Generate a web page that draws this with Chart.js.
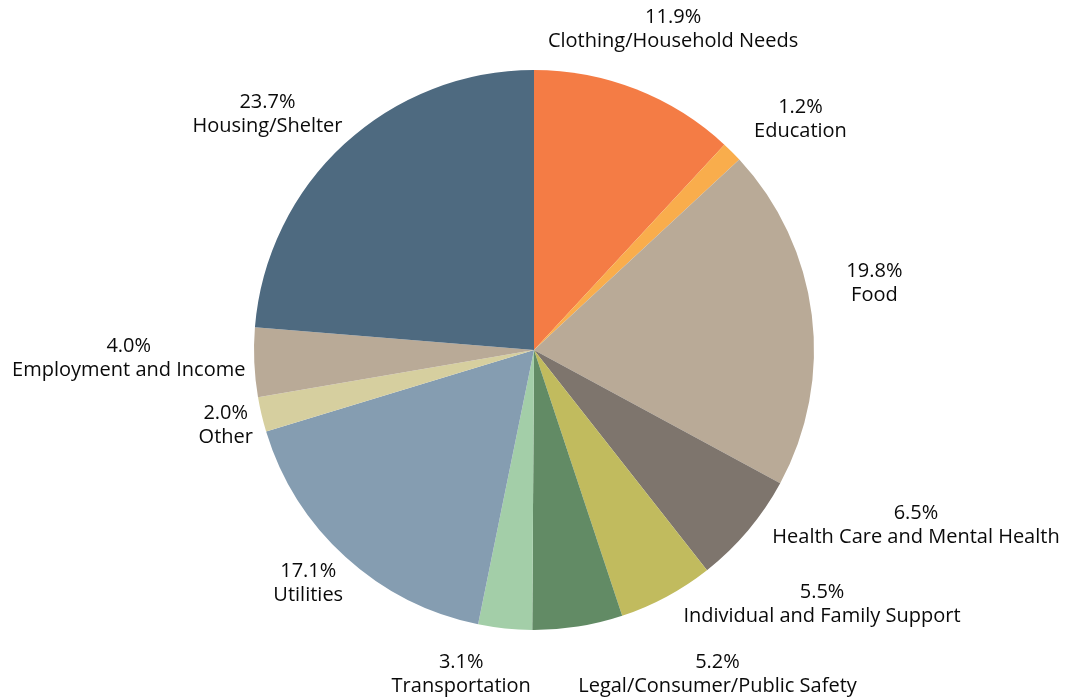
<!DOCTYPE html>
<html><head><meta charset="utf-8">
<script src="https://cdn.jsdelivr.net/npm/chart.js@4"></script>
<style>html,body{margin:0;padding:0;background:#fff}#wrap{width:1079px;height:700px}</style>
</head><body><div id="wrap"><canvas id="c"></canvas></div>
<script>
const categories = ["Clothing/Household Needs","Education","Food","Health Care and Mental Health","Individual and Family Support","Legal/Consumer/Public Safety","Transportation","Utilities","Other","Employment and Income","Housing/Shelter"];
const values = [11.9,1.2,19.8,6.5,5.5,5.2,3.1,17.1,2.0,4.0,23.7];
const colors = ["#F47C45","#F9AD4C","#B9AA97","#7E756D","#C1BB5E","#628B65","#A3CEA8","#859DB1","#D6CF9F","#B9AA97","#4E6A80"];
// label nudges (px) relative to the generic outside placement
const labelNudge = [[-18,-16],[18,1],[10,-26],[39,-36],[78,-34],[114,1],[-34,-1],[3,-9],[15,0],[16,-6],[-9,5]];

const FONT = '20px "Open Sans"';
const labelPlugin = {
  id:'outLabels',
  afterDatasetsDraw(chart){
    const ctx = chart.ctx;
    const meta = chart.getDatasetMeta(0);
    ctx.save();
    ctx.font = FONT;
    ctx.fillStyle = '#0a0a0a';
    ctx.textAlign = 'center';
    ctx.textBaseline = 'middle';
    meta.data.forEach((arc,i)=>{
      const p = arc.getProps(['x','y','startAngle','endAngle','outerRadius'],true);
      const a = (p.startAngle+p.endAngle)/2;
      const c = Math.cos(a), s = Math.sin(a);
      const l1 = values[i].toFixed(1)+'%', l2 = categories[i];
      const hw = Math.max(ctx.measureText(l1).width, ctx.measureText(l2).width)/2;
      const hh = 22;
      const R = p.outerRadius + 25;
      const cx = p.x + c*R + c*hw + labelNudge[i][0];
      const cy = p.y + s*R + s*hh + labelNudge[i][1];
      ctx.fillText(l1, cx, cy-12);
      ctx.fillText(l2, cx, cy+12);
    });
    ctx.restore();
  }
};

new Chart(document.getElementById('c'),{
  type:'pie',
  data:{labels:categories,datasets:[{data:values,backgroundColor:colors,borderWidth:0}]},
  options:{
    responsive:true,maintainAspectRatio:false,animation:false,
    layout:{padding:{left:254,right:265,top:70,bottom:70}},
    plugins:{legend:{display:false},tooltip:{enabled:false}}
  },
  plugins:[labelPlugin]
});
</script></body></html>
